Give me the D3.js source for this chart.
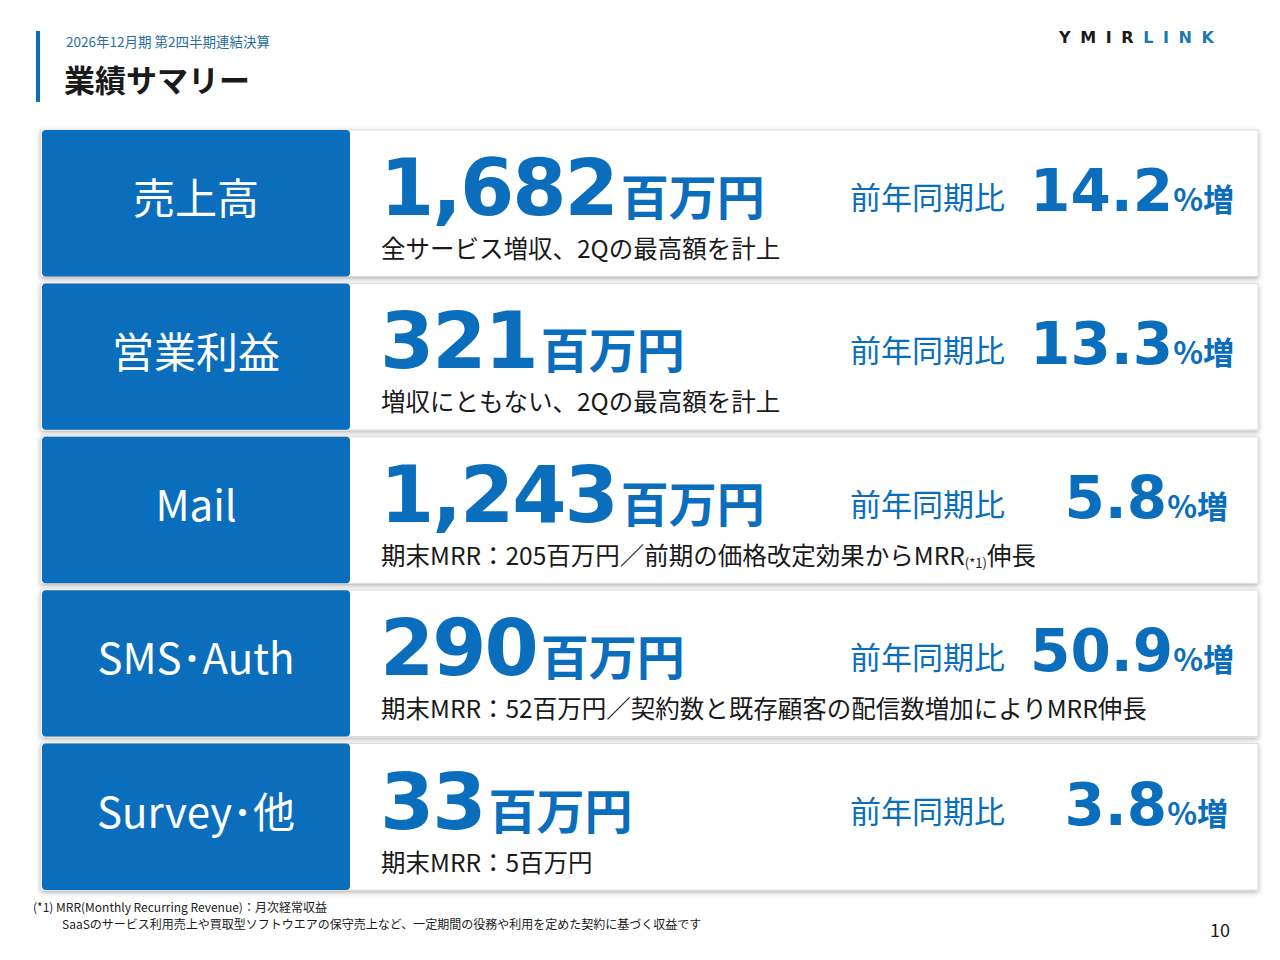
<!DOCTYPE html>
<html><head><meta charset="utf-8">
<script src="https://cdn.jsdelivr.net/npm/d3@7"></script>
<style>body{margin:0;background:#fff}svg{display:block}</style>
</head><body><svg id="c" width="1280" height="960"></svg>
<script>
const categories = ["売上高","営業利益","Mail","SMS･Auth","Survey･他"];
const values = ["1,682","321","1,243","290","33"];
const growth = ["14.2","13.3","5.8","50.9","3.8"];
const notes = ["全サービス増収、2Qの最高額を計上","増収にともない、2Qの最高額を計上",
  "期末MRR：205百万円／前期の価格改定効果からMRR","期末MRR：52百万円／契約数と既存顧客の配信数増加によりMRR伸長","期末MRR：5百万円"];
const noteSup = ["","","(*1)","",""];
const noteTail = ["","","伸長","",""];

const svg = d3.select("#c");
const F = "'Noto Sans CJK JP','Noto Sans',sans-serif";
const blue = "#0a6ebd", dark = "#1a1a1a";
const defs = svg.append("defs");
const f = defs.append("filter").attr("id","sh").attr("x","-5%").attr("y","-10%").attr("width","110%").attr("height","125%");
f.append("feDropShadow").attr("dx",0).attr("dy",2).attr("stdDeviation",2.5).attr("flood-color","#000").attr("flood-opacity",0.3);

svg.append("rect").attr("x",36).attr("y",31).attr("width",4).attr("height",71).attr("fill",blue);
svg.append("text").attr("x",66).attr("y",47).attr("font-family",F).attr("font-size",13.5).attr("fill","#2a6d9a").text("2026年12月期 第2四半期連結決算");
svg.append("text").attr("x",64).attr("y",92).attr("font-family",F).attr("font-size",31).attr("font-weight",700).attr("fill",dark).text("業績サマリー");
const logo = svg.append("text").attr("x",1059).attr("y",43).attr("font-family","'DejaVu Sans',sans-serif").attr("font-size",16).attr("font-weight",700).attr("letter-spacing",9.6);
logo.append("tspan").attr("fill","#1a1a1a").text("YMIR");
logo.append("tspan").attr("fill","#1a78b8").text("LINK");

const y = d3.scaleBand().domain(d3.range(categories.length)).range([130,890]).paddingInner(0.045).paddingOuter(0);
const g = svg.selectAll("g.row").data(categories).join("g").attr("transform",(d,i)=>`translate(0,${y(i)})`);
const h = y.bandwidth();
g.append("rect").attr("x",41).attr("y",0).attr("width",1217).attr("height",h).attr("fill","#fff").attr("stroke","#ddd").attr("filter","url(#sh)");
g.append("rect").attr("x",42).attr("y",0).attr("width",308).attr("height",h).attr("rx",4).attr("fill",blue);
g.append("text").attr("x",196).attr("y",h/2+11).attr("text-anchor","middle").attr("font-family",F).attr("font-size",42).attr("fill","#fff").text(d=>d);
const vt = g.append("text").attr("x",380).attr("y",85).attr("font-family",F).attr("font-weight",700).attr("fill",blue);
vt.append("tspan").attr("font-family","'DejaVu Sans',sans-serif").attr("font-size",78).attr("letter-spacing",-2).text((d,i)=>values[i]);
vt.append("tspan").attr("font-size",48).attr("dx",4).text("百万円");
g.append("text").attr("x",850).attr("y",79).attr("font-family",F).attr("font-size",31).attr("fill",blue).text("前年同期比");
const gt = g.append("text").attr("x",(d,i)=>growth[i].length>3?1234:1228).attr("y",81).attr("text-anchor","end").attr("font-family",F).attr("font-weight",700).attr("fill",blue);
gt.append("tspan").attr("font-family","'DejaVu Sans',sans-serif").attr("font-size",58).text((d,i)=>growth[i]);
gt.append("tspan").attr("font-size",31).text("%増");
const nt = g.append("text").attr("x",381).attr("y",128).attr("font-family",F).attr("font-size",24.5).attr("fill",dark);
nt.append("tspan").text((d,i)=>notes[i]);
nt.append("tspan").attr("font-size",13).attr("dy",3).text((d,i)=>noteSup[i]);
nt.append("tspan").attr("dy",-3).text((d,i)=>noteTail[i]);

const ft = svg.append("text").attr("font-family",F).attr("font-size",12).attr("fill",dark);
ft.append("tspan").attr("x",33).attr("y",912).text("(*1) MRR(Monthly Recurring Revenue)：月次経常収益");
ft.append("tspan").attr("x",62).attr("y",929).text("SaaSのサービス利用売上や買取型ソフトウエアの保守売上など、一定期間の役務や利用を定めた契約に基づく収益です");
svg.append("text").attr("x",1230).attr("y",937).attr("text-anchor","end").attr("font-family",F).attr("font-size",18).attr("fill",dark).text("10");
</script></body></html>
